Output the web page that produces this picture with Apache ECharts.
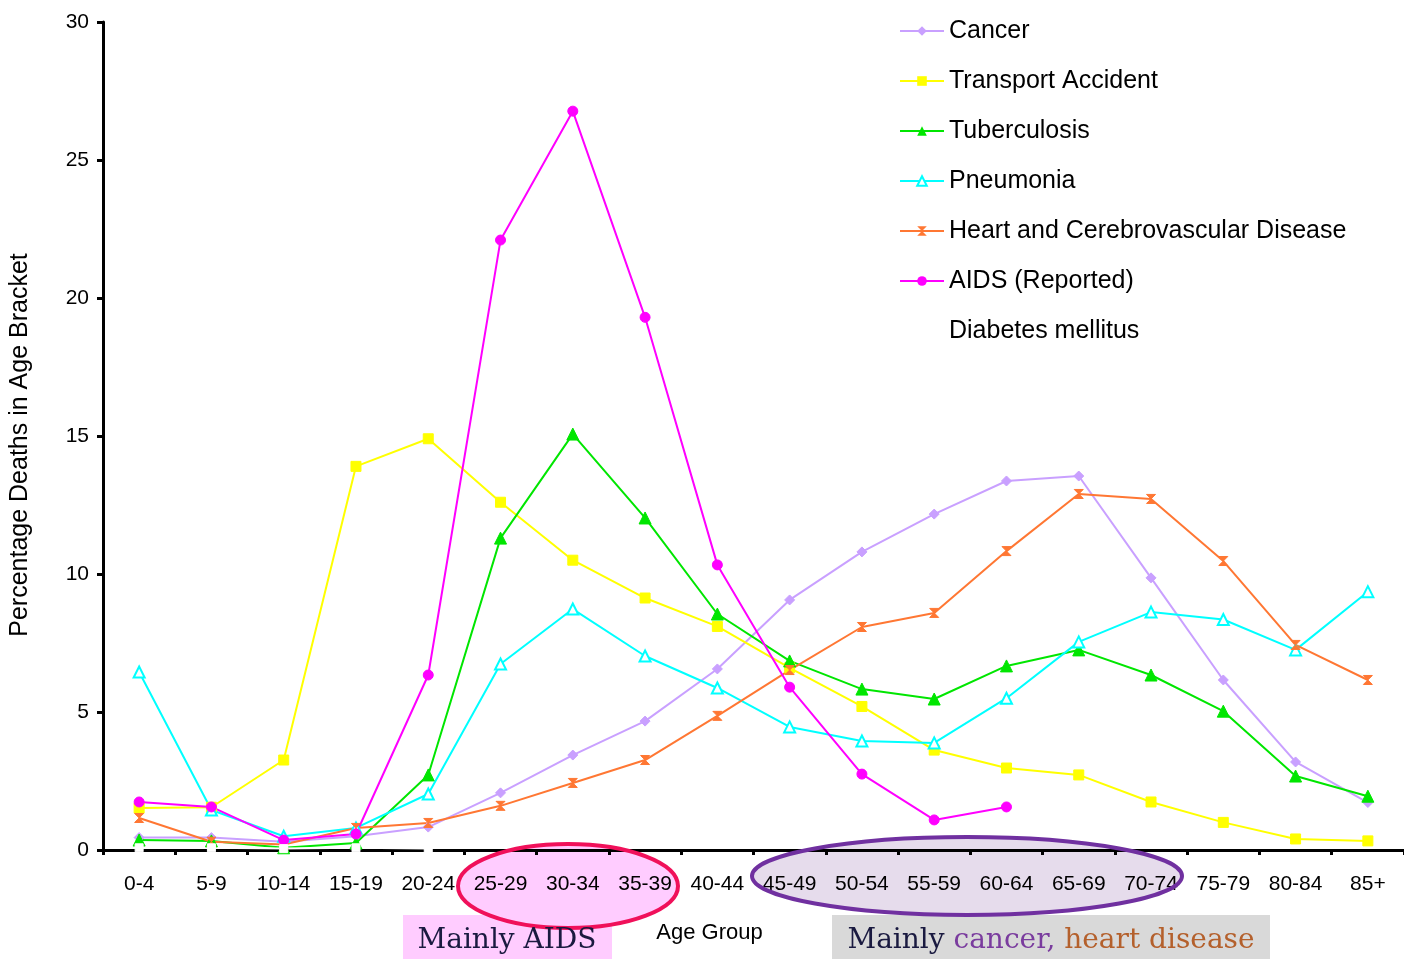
<!DOCTYPE html>
<html>
<head>
<meta charset="utf-8">
<script src="https://cdn.jsdelivr.net/npm/echarts@6/dist/echarts.min.js"></script>
<style>
html,body{margin:0;padding:0;background:#fff;}
#chart{width:1404px;height:959px;}
</style>
</head>
<body>
<div id="chart"></div>
<script>
const categories = ['0-4','5-9','10-14','15-19','20-24','25-29','30-34','35-39','40-44','45-49','50-54','55-59','60-64','65-69','70-74','75-79','80-84','85+'];
const yTicks = [0, 5, 10, 15, 20, 25, 30];

const cancer = [0.45, 0.45, 0.3, 0.5, 0.83, 2.07, 3.44, 4.67, 6.56, 9.06, 10.8, 12.17, 13.37, 13.55, 9.86, 6.16, 3.19, 1.72];
const transport = [1.52, 1.55, 3.26, 13.9, 14.9, 12.6, 10.5, 9.13, 8.1, 6.6, 5.2, 3.62, 2.97, 2.72, 1.74, 1.0, 0.4, 0.33];
const tuberculosis = [0.36, 0.33, 0.08, 0.25, 2.72, 11.3, 15.07, 12.03, 8.55, 6.85, 5.83, 5.47, 6.67, 7.25, 6.34, 5.03, 2.68, 1.95];
const pneumonia = [6.45, 1.45, 0.5, 0.8, 2.03, 6.74, 8.73, 7.03, 5.87, 4.46, 3.95, 3.88, 5.5, 7.54, 8.62, 8.35, 7.25, 9.36];
const heart = [1.16, 0.3, 0.2, 0.8, 0.98, 1.6, 2.43, 3.26, 4.86, 6.52, 8.08, 8.59, 10.83, 12.9, 12.72, 10.47, 7.43, 6.16];
const aids = [1.74, 1.56, 0.36, 0.58, 6.34, 22.1, 26.77, 19.3, 10.33, 5.9, 2.75, 1.09, 1.56, null, null, null, null, null];
const diabetes = [0.08, 0.08, 0.05, 0.08, 0.05, null, null, null, null, null, null, null, null, null, null, null, null, null];

const hourglass = 'path://M0,0L10,0L5,5L10,10L0,10L5,5Z';

function mk(name, data, color, symbol, size) {
  return {
    name: name, type: 'line', data: data, z: 4,
    symbol: symbol, symbolSize: size,
    lineStyle: {color: color, width: 2},
    itemStyle: {color: color, borderColor: color},
    connectNulls: false,
    animation: false
  };
}

const chart = echarts.init(document.getElementById('chart'), null, {renderer: 'canvas'});
const font = '"Liberation Sans", Arial, sans-serif';
const option = {
  backgroundColor: '#ffffff',
  animation: false,
  textStyle: {fontFamily: font},
  grid: {left: 103, right: -3, top: 22, bottom: 109, containLabel: false},
  legend: {
    orient: 'vertical', left: 894, top: 11,
    itemWidth: 44, itemHeight: 12, itemGap: 20,
    textStyle: {fontSize: 25, color: '#000', fontFamily: font, lineHeight: 30},
    data: ['Cancer','Transport Accident','Tuberculosis','Pneumonia','Heart and Cerebrovascular Disease','AIDS (Reported)','Diabetes mellitus']
  },
  xAxis: {
    type: 'category', data: categories, boundaryGap: true, z: 3,
    name: 'Age Group', nameLocation: 'middle', nameGap: 72,
    nameTextStyle: {fontSize: 22, color: '#000', fontFamily: font, verticalAlign: 'top', padding: [0, 88, 0, 0]},
    axisLine: {show: true, lineStyle: {color: '#000', width: 3}},
    axisTick: {show: true, alignWithLabel: false, length: 5, lineStyle: {color: '#000', width: 3}},
    axisLabel: {interval: 0, fontSize: 21, color: '#000', margin: 24, fontFamily: font},
    splitLine: {show: false}
  },
  yAxis: {
    type: 'value', min: 0, max: 30, interval: 5, z: 3,
    name: 'Percentage Deaths in Age Bracket', nameLocation: 'middle', nameGap: 70,
    nameTextStyle: {fontSize: 25, color: '#000', fontFamily: font, padding: [0, 0, 0, -18]},
    axisLine: {show: true, lineStyle: {color: '#000', width: 3}},
    axisTick: {show: true, length: 6, lineStyle: {color: '#000', width: 3}},
    axisLabel: {fontSize: 21, color: '#000', margin: 14, fontFamily: font,
      formatter: function (v) { return yTicks.indexOf(v) >= 0 ? String(v) : ''; }},
    splitLine: {show: false}
  },
  graphic: {
    elements: [
      {type: 'ellipse', z: 1, shape: {cx: 568, cy: 886, rx: 110, ry: 42}, style: {fill: '#ffccff', stroke: null}},
      {type: 'ellipse', z: 1, shape: {cx: 967, cy: 876, rx: 215, ry: 39}, style: {fill: '#e6dcec', stroke: null}},
      {type: 'rect', z: 1, shape: {x: 403, y: 915, width: 209, height: 50}, style: {fill: '#ffccff'}},
      {type: 'rect', z: 1, shape: {x: 832, y: 915, width: 438, height: 50}, style: {fill: '#d9d9d9'}},
      {type: 'ellipse', z: 10, shape: {cx: 568, cy: 886, rx: 110, ry: 42}, style: {fill: null, stroke: '#f0105a', lineWidth: 4}},
      {type: 'ellipse', z: 10, shape: {cx: 967, cy: 876, rx: 215, ry: 39}, style: {fill: null, stroke: '#7030a0', lineWidth: 4}},
      {type: 'text', z: 11, x: 507, y: 941, style: {text: 'Mainly AIDS', fill: '#1a1a40', font: '28px "DejaVu Serif", serif', align: 'center', verticalAlign: 'middle'}},
      {type: 'text', z: 11, x: 1051, y: 941, style: {
        text: '{a|Mainly }{b|cancer,}{c| heart disease}', align: 'center', verticalAlign: 'middle',
        rich: {
          a: {fill: '#1a1a40', fontSize: 28, fontFamily: '"DejaVu Serif", serif'},
          b: {fill: '#7a3c9e', fontSize: 28, fontFamily: '"DejaVu Serif", serif'},
          c: {fill: '#b4602c', fontSize: 28, fontFamily: '"DejaVu Serif", serif'}
        }
      }}
    ]
  },
  series: [
    mk('Cancer', cancer, '#c9a0ff', 'diamond', 10),
    mk('Transport Accident', transport, '#ffff00', 'rect', 10),
    mk('Tuberculosis', tuberculosis, '#00e600', 'triangle', 12),
    mk('Pneumonia', pneumonia, '#00ffff', 'emptyTriangle', 11),
    mk('Heart and Cerebrovascular Disease', heart, '#ff7733', hourglass, 9),
    mk('AIDS (Reported)', aids, '#ff00ff', 'circle', 10),
    mk('Diabetes mellitus', diabetes, '#ffffff', 'rect', 8)
  ]
};
chart.setOption(option);
</script>
</body>
</html>
